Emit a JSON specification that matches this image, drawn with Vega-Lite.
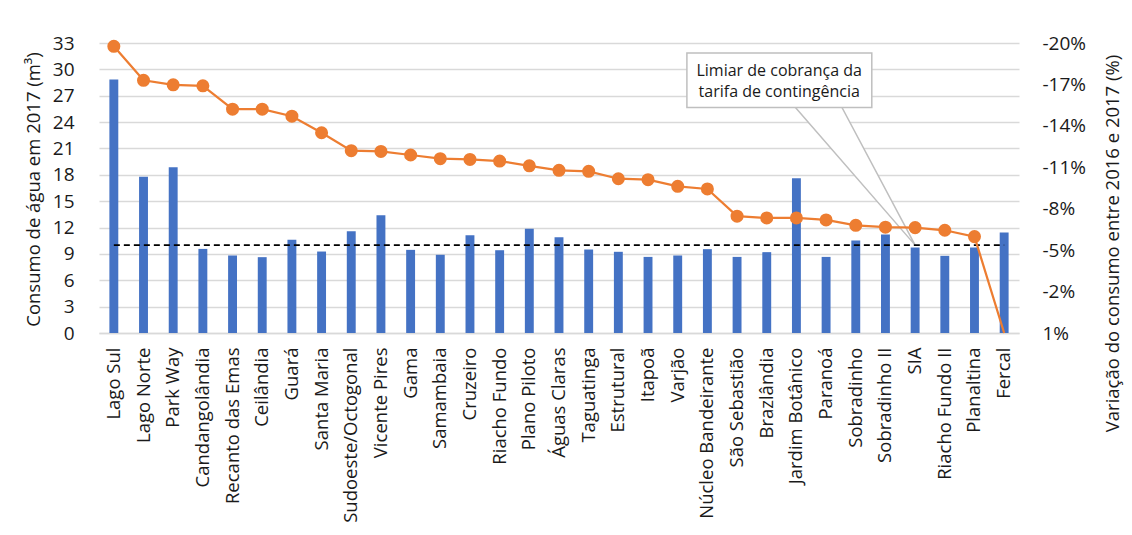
{
  "$schema": "https://vega.github.io/schema/vega-lite/v6.json",
  "width": 920,
  "height": 290,
  "autosize": {"type": "none"},
  "padding": {"left": 99, "top": 43, "right": 113, "bottom": 202},
  "background": "white",
  "config": {"font": "Open Sans", "view": {"stroke": null}},
  "datasets": {
    "d": [
      {"regiao": "Lago Sul", "consumo": 28.85, "variacao": -19.76, "limiar": 10},
      {"regiao": "Lago Norte", "consumo": 17.79, "variacao": -17.3, "limiar": 10},
      {"regiao": "Park Way", "consumo": 18.85, "variacao": -16.97, "limiar": 10},
      {"regiao": "Candangolândia", "consumo": 9.57, "variacao": -16.9, "limiar": 10},
      {"regiao": "Recanto das Emas", "consumo": 8.82, "variacao": -15.21, "limiar": 10},
      {"regiao": "Ceilândia", "consumo": 8.63, "variacao": -15.21, "limiar": 10},
      {"regiao": "Guará", "consumo": 10.6, "variacao": -14.7, "limiar": 10},
      {"regiao": "Santa Maria", "consumo": 9.27, "variacao": -13.5, "limiar": 10},
      {"regiao": "Sudoeste/Octogonal", "consumo": 11.58, "variacao": -12.2, "limiar": 10},
      {"regiao": "Vicente Pires", "consumo": 13.4, "variacao": -12.15, "limiar": 10},
      {"regiao": "Gama", "consumo": 9.46, "variacao": -11.89, "limiar": 10},
      {"regiao": "Samambaia", "consumo": 8.9, "variacao": -11.62, "limiar": 10},
      {"regiao": "Cruzeiro", "consumo": 11.13, "variacao": -11.57, "limiar": 10},
      {"regiao": "Riacho Fundo", "consumo": 9.42, "variacao": -11.45, "limiar": 10},
      {"regiao": "Plano Piloto", "consumo": 11.85, "variacao": -11.11, "limiar": 10},
      {"regiao": "Águas Claras", "consumo": 10.9, "variacao": -10.78, "limiar": 10},
      {"regiao": "Taguatinga", "consumo": 9.5, "variacao": -10.71, "limiar": 10},
      {"regiao": "Estrutural", "consumo": 9.24, "variacao": -10.17, "limiar": 10},
      {"regiao": "Itapoã", "consumo": 8.66, "variacao": -10.1, "limiar": 10},
      {"regiao": "Varjão", "consumo": 8.82, "variacao": -9.62, "limiar": 10},
      {"regiao": "Núcleo Bandeirante", "consumo": 9.54, "variacao": -9.43, "limiar": 10},
      {"regiao": "São Sebastião", "consumo": 8.66, "variacao": -7.46, "limiar": 10},
      {"regiao": "Brazlândia", "consumo": 9.2, "variacao": -7.33, "limiar": 10},
      {"regiao": "Jardim Botânico", "consumo": 17.6, "variacao": -7.33, "limiar": 10},
      {"regiao": "Paranoá", "consumo": 8.66, "variacao": -7.19, "limiar": 10},
      {"regiao": "Sobradinho", "consumo": 10.52, "variacao": -6.8, "limiar": 10},
      {"regiao": "Sobradinho II", "consumo": 11.2, "variacao": -6.66, "limiar": 10},
      {"regiao": "SIA", "consumo": 9.72, "variacao": -6.63, "limiar": 10},
      {"regiao": "Riacho Fundo II", "consumo": 8.78, "variacao": -6.44, "limiar": 10},
      {"regiao": "Planaltina", "consumo": 9.72, "variacao": -5.98, "limiar": 10},
      {"regiao": "Fercal", "consumo": 11.43, "variacao": 1, "limiar": 10}
    ],
    "wedge": [
      {"y": 25.7, "xl": 23.46, "xr": 25.03},
      {"y": 10, "xl": 27.5, "xr": 27.5}
    ],
    "box": [
      {"x": 19.81, "x2": 26.04, "y": 31.87, "y2": 25.66}
    ],
    "boxtext": [
      {"x": 22.92, "y": 29.79, "t": "Limiar de cobrança da"},
      {"x": 22.92, "y": 27.4, "t": "tarifa de contingência"}
    ]
  },
  "layer": [
    {
      "data": {"name": "wedge"},
      "mark": {"type": "area", "orient": "horizontal", "fill": "white", "stroke": "#BFBFBF", "strokeWidth": 1.5},
      "encoding": {
        "y": {"field": "y", "type": "quantitative", "scale": {"domain": [0, 33], "nice": false, "zero": false}, "axis": null},
        "x": {"field": "xl", "type": "quantitative", "scale": {"domain": [0, 31], "nice": false, "zero": false}, "axis": null},
        "x2": {"field": "xr"}
      }
    },
    {
      "data": {"name": "box"},
      "mark": {"type": "rect", "fill": "white", "stroke": "#BFBFBF", "strokeWidth": 1.5},
      "encoding": {
        "x": {"field": "x", "type": "quantitative", "scale": {"domain": [0, 31], "nice": false, "zero": false}, "axis": null},
        "x2": {"field": "x2"},
        "y": {"field": "y", "type": "quantitative", "scale": {"domain": [0, 33], "nice": false, "zero": false}, "axis": null},
        "y2": {"field": "y2"}
      }
    },
    {
      "data": {"name": "boxtext"},
      "mark": {"type": "text", "fontSize": 16, "color": "#1a1a1a", "align": "center", "baseline": "middle"},
      "encoding": {
        "x": {"field": "x", "type": "quantitative", "scale": {"domain": [0, 31], "nice": false, "zero": false}, "axis": null},
        "y": {"field": "y", "type": "quantitative", "scale": {"domain": [0, 33], "nice": false, "zero": false}, "axis": null},
        "text": {"field": "t"}
      }
    },
    {
      "data": {"name": "d"},
      "mark": {"type": "bar", "color": "#4472C4"},
      "encoding": {
        "x": {
          "field": "regiao", "type": "nominal", "sort": null,
          "scale": {"paddingInner": 0.7, "paddingOuter": 0.35},
          "axis": {
            "title": null, "labelAngle": 270, "labelAlign": "right", "labelBaseline": "middle",
            "labelPadding": 14, "ticks": false, "tickSize": 0, "domainColor": "#D9D9D9", "domainWidth": 1.3,
            "labelFontSize": 18.5, "labelColor": "#1a1a1a", "labelLimit": 300
          }
        },
        "y": {
          "field": "consumo", "type": "quantitative",
          "scale": {"domain": [0, 33], "nice": false},
          "axis": {
            "title": "Consumo de água em 2017 (m³)", "values": [0, 3, 6, 9, 12, 15, 18, 21, 24, 27, 30, 33],
            "grid": true, "gridColor": "#D9D9D9", "gridWidth": 1.3, "domain": false, "ticks": false, "tickSize": 0,
            "labelPadding": 25, "labelFontSize": 19, "labelColor": "#1a1a1a",
            "titleFontSize": 18.5, "titleFontWeight": "normal", "titleColor": "#1a1a1a",
            "titleAngle": 270, "titleX": -66, "titleY": 146, "titleAlign": "center", "titleBaseline": "middle"
          }
        }
      }
    },
    {
      "data": {"name": "d"},
      "mark": {"type": "line", "color": "black", "strokeDash": [6, 4], "strokeWidth": 1.8},
      "encoding": {
        "x": {"field": "regiao", "type": "nominal", "sort": null, "scale": {"type": "point", "padding": 0.5}, "axis": null},
        "y": {"field": "limiar", "type": "quantitative", "scale": {"domain": [0, 33], "nice": false}, "axis": null}
      }
    },
    {
      "data": {"name": "d"},
      "mark": {"type": "line", "color": "#ED7D31", "strokeWidth": 2.25},
      "encoding": {
        "x": {"field": "regiao", "type": "nominal", "sort": null, "scale": {"type": "point", "padding": 0.5}, "axis": null},
        "y": {
          "field": "variacao", "type": "quantitative",
          "scale": {"domain": [-20, 1], "reverse": true, "nice": false, "zero": false},
          "axis": {
            "orient": "right", "title": "Variação do consumo entre 2016 e 2017 (%)",
            "values": [-20, -17, -14, -11, -8, -5, -2, 1], "labelExpr": "datum.value + '%'",
            "grid": false, "domain": false, "ticks": false, "tickSize": 0,
            "labelPadding": 23, "labelFontSize": 19, "labelColor": "#1a1a1a", "labelAlign": "left",
            "titleFontSize": 18.5, "titleFontWeight": "normal", "titleColor": "#1a1a1a",
            "titleAngle": 270, "titleX": 93, "titleY": 200, "titleAlign": "center", "titleBaseline": "middle"
          }
        }
      }
    },
    {
      "data": {"name": "d"},
      "transform": [{"filter": "datum.regiao !== 'Fercal'"}],
      "mark": {"type": "point", "filled": true, "color": "#ED7D31", "size": 170, "opacity": 1},
      "encoding": {
        "x": {"field": "regiao", "type": "nominal", "sort": null, "scale": {"type": "point", "padding": 0.5, "domain": ["Lago Sul","Lago Norte","Park Way","Candangolândia","Recanto das Emas","Ceilândia","Guará","Santa Maria","Sudoeste/Octogonal","Vicente Pires","Gama","Samambaia","Cruzeiro","Riacho Fundo","Plano Piloto","Águas Claras","Taguatinga","Estrutural","Itapoã","Varjão","Núcleo Bandeirante","São Sebastião","Brazlândia","Jardim Botânico","Paranoá","Sobradinho","Sobradinho II","SIA","Riacho Fundo II","Planaltina","Fercal"]}, "axis": null},
        "y": {"field": "variacao", "type": "quantitative", "scale": {"domain": [-20, 1], "reverse": true, "nice": false, "zero": false}, "axis": null}
      }
    }
  ],
  "resolve": {"scale": {"x": "independent", "y": "independent"}}
}
